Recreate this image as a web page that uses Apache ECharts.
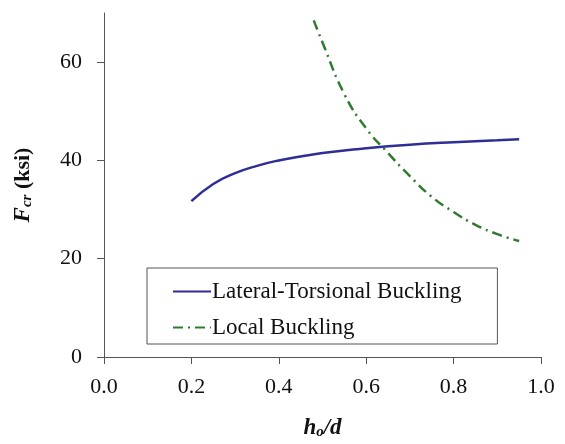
<!DOCTYPE html>
<html>
<head>
<meta charset="utf-8">
<script src="https://cdn.jsdelivr.net/npm/echarts@6/dist/echarts.min.js"></script>
<style>
    html, body { margin: 0; padding: 0; background: #fff; }
    #main { width: 565px; height: 444px; }
</style>
</head>
<body>
<div id="main"></div>
<script>
// 数据
var ltbX = [0.2, 0.25, 0.3, 0.35, 0.4, 0.45, 0.5, 0.55, 0.6, 0.7, 0.8, 0.9, 0.95];
var ltbY = [31.7, 35.2, 37.4, 38.9, 40.0, 40.8, 41.5, 42.0, 42.5, 43.2, 43.7, 44.1, 44.3];
var localX = [0.48, 0.5, 0.55, 0.6, 0.65, 0.7, 0.75, 0.8, 0.85, 0.9, 0.95];
var localY = [68.5, 64.0, 53.5, 46.5, 41.5, 36.8, 32.6, 29.5, 26.9, 25.0, 23.6];
var seriesNames = ["Lateral-Torsional Buckling", "Local Buckling"];
var yTicks = [0, 20, 40, 60];

(function () {
    var myChart = echarts.init(document.getElementById("main"));
    var serif = "Liberation Serif";
    function pairs(xs, ys) {
        return xs.map(function (x, i) { return [x, ys[i]]; });
    }
    var option = {
        animation: false,
        textStyle: { fontFamily: serif },
        grid: {
            left: 104,
            right: 24,
            top: 13,
            bottom: 87,
            outerBoundsMode: "none"
        },
        legend: {
            orient: "vertical",
            left: 147,
            top: 268,
            padding: [12, 36, 5, 25],
            itemGap: 13,
            itemWidth: 38,
            itemHeight: 14,
            borderColor: "#555",
            borderWidth: 1,
            data: seriesNames,
            itemStyle: { opacity: 0 },
            textStyle: {
                fontFamily: serif,
                fontSize: 23,
                color: "#111",
                padding: [0, 0, 0, -4]
            }
        },
        xAxis: {
            type: "value",
            min: 0,
            max: 1,
            interval: 0.2,
            splitLine: { show: false },
            axisLine: { lineStyle: { color: "#555", width: 1 } },
            axisTick: { show: true, length: 7, lineStyle: { color: "#555" } },
            axisLabel: {
                color: "#111",
                fontSize: 22,
                fontFamily: serif,
                margin: 19,
                formatter: function (v) { return v.toFixed(1); }
            },
            name: "{a|h}{s|o}{a|/d}",
            nameLocation: "middle",
            nameGap: 60,
            nameTextStyle: {
                rich: {
                    a: { fontSize: 23, fontWeight: "bold", fontStyle: "italic", fontFamily: serif, color: "#111" },
                    s: { fontSize: 15, fontWeight: "bold", fontStyle: "italic", fontFamily: serif, color: "#111", verticalAlign: "bottom", padding: [8, 0, 0, 0] }
                }
            }
        },
        yAxis: {
            type: "value",
            min: 0,
            max: 70,
            interval: 20,
            splitLine: { show: false },
            axisLine: { show: true, lineStyle: { color: "#555", width: 1 } },
            axisTick: { show: true, length: 7, customValues: yTicks, lineStyle: { color: "#555" } },
            axisLabel: {
                color: "#111",
                fontSize: 22,
                fontFamily: serif,
                margin: 22,
                customValues: yTicks
            },
            name: "{a|F}{s|cr}{b| (ksi)}",
            nameLocation: "middle",
            nameGap: 69,
            nameRotate: 90,
            nameTextStyle: {
                rich: {
                    a: { fontSize: 23, fontWeight: "bold", fontStyle: "italic", fontFamily: serif, color: "#111" },
                    s: { fontSize: 15, fontWeight: "bold", fontStyle: "italic", fontFamily: serif, color: "#111", verticalAlign: "bottom", padding: [8, 0, 0, 0] },
                    b: { fontSize: 22, fontWeight: "bold", fontFamily: serif, color: "#111" }
                }
            }
        },
        series: [
            {
                name: seriesNames[0],
                type: "line",
                smooth: true,
                symbol: "none",
                data: pairs(ltbX, ltbY),
                itemStyle: { color: "#2e2e96" },
                lineStyle: { color: "#2e2e96", width: 2.5 }
            },
            {
                name: seriesNames[1],
                type: "line",
                smooth: true,
                symbol: "none",
                data: pairs(localX, localY),
                itemStyle: { color: "#2f7a2f" },
                lineStyle: { color: "#2f7a2f", width: 2.5, type: [10, 5, 2, 5] }
            }
        ]
    };
    myChart.setOption(option);
    window.addEventListener("resize", function () {
        myChart.resize();
    });
})();
</script>
</body>
</html>
